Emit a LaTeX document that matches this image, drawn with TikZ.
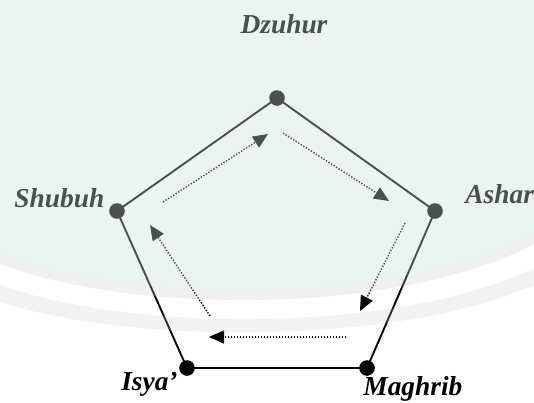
\documentclass[tikz,border=0pt]{standalone}
\usepackage{fontspec}
\setmainfont{Liberation Serif}
\usetikzlibrary{arrows.meta}
\definecolor{mintov}{rgb}{0.78,0.90,0.84}
\definecolor{greyov}{rgb}{0.80,0.80,0.80}
\tikzset{
  dot/.style={circle,fill=black,inner sep=0pt,minimum size=7.8pt},
  side/.style={line width=0.95pt,black},
  flow/.style={line width=0.7pt,black,dash pattern=on 0.7pt off 0.8pt,
    -{Triangle[length=7.5pt,width=6.5pt]}},
  lbl/.style={inner sep=0pt,font=\fontsize{13.7}{16}\selectfont\bfseries\itshape}
}
\begin{document}
\begin{tikzpicture}[x=0.5pt,y=-0.5pt]
\useasboundingbox (0,0) rectangle (534,402);
\fill[white] (0,0) rectangle (534,402);
% vertices
\node[dot] (dz) at (277,98) {};
\node[dot] (as) at (435,211) {};
\node[dot] (ma) at (367,368) {};
\node[dot] (is) at (187,368) {};
\node[dot] (sh) at (117,211) {};
% pentagon sides
\draw[side] (dz.center) -- (as.center) -- (ma.center) -- (is.center) -- (sh.center) -- (dz.center);
% labels
\node[lbl,anchor=base] (ldz) at (284,33) {Dzuhur};
\node[lbl,anchor=base west] (las) at (465,203) {Ashar};
\node[lbl,anchor=base west] (lma) at (363,395) {Maghrib};
\node[lbl,anchor=base east] (lis) at (178,390) {Isya’};
\node[lbl,anchor=base west] (lsh) at (14,207) {Shubuh};
% flow arrows
\coordinate (f1s) at (163,202); \coordinate (f1e) at (268,134);
\coordinate (f2s) at (283,133); \coordinate (f2e) at (389,201);
\coordinate (f3s) at (405,223); \coordinate (f3e) at (360,311);
\coordinate (f4s) at (346,337); \coordinate (f4e) at (209,337);
\coordinate (f5s) at (210,316); \coordinate (f5e) at (150,225);
\draw[flow] (f1s) -- (f1e);
\draw[flow] (f2s) -- (f2e);
\draw[flow] (f3s) -- (f3e);
\draw[flow] (f4s) -- (f4e);
\draw[flow] (f5s) -- (f5e);
% background tint (watermark)
\fill[mintov,opacity=0.36] (0,0) -- (534,0) -- (534,234)
  .. controls (400,305) and (134,305) .. (0,254) -- cycle;
\fill[greyov,opacity=0.28] (534,234) .. controls (400,305) and (134,305) .. (0,254)
  -- (0,264) .. controls (134,315) and (400,315) .. (534,244) -- cycle;
\fill[greyov,opacity=0.24] (534,268) .. controls (400,333) and (134,333) .. (0,285)
  -- (0,302) .. controls (134,345) and (400,345) .. (534,285) -- cycle;
\end{tikzpicture}
\end{document}
